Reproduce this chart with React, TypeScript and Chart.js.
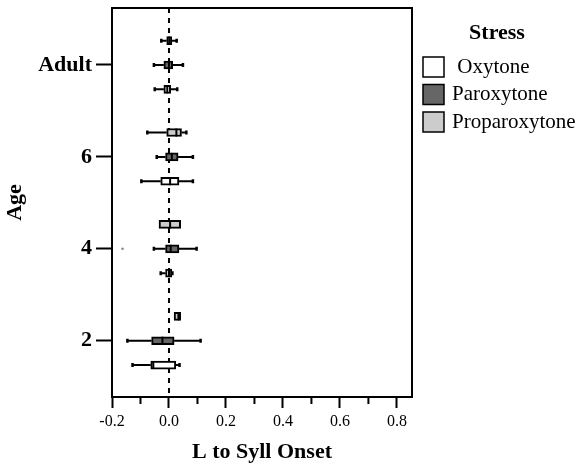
import React, { useEffect, useRef } from 'react';
import { Chart, registerables } from 'chart.js';

Chart.register(...registerables);

const SERIF = "'Liberation Serif', 'Times New Roman', serif";

// Categories (y positions of age groups) and tick labels
const ageValues = [2, 4, 6, 8];
const ageTickLabels = ['2', '4', '6', 'Adult'];
const xTickValues = [-0.2, -0.1, 0, 0.1, 0.2, 0.3, 0.4, 0.5, 0.6, 0.7, 0.8];

const stressNames = ['Oxytone', 'Paroxytone', 'Proparoxytone'];
const stressLegendLabels = [' Oxytone', 'Paroxytone', 'Proparoxytone'];
const stressFills = ['#ffffff', '#666666', '#cccccc'];
const stressRowOffsets = [-0.53, 0, 0.53];

// Box statistics, order: age 2, 4, 6, Adult
const oxytoneMin = [-0.128, -0.029, -0.097, -0.05];
const oxytoneQ1 = [-0.064, -0.012, -0.029, -0.018];
const oxytoneMedian = [-0.055, 0.0, 0.004, -0.006];
const oxytoneQ3 = [0.024, 0.01, 0.035, 0.006];
const oxytoneMax = [0.037, 0.012, 0.084, 0.029];

const paroxytoneMin = [-0.146, -0.053, -0.043, -0.053];
const paroxytoneQ1 = [-0.061, -0.012, -0.012, -0.018];
const paroxytoneMedian = [-0.023, 0.006, 0.01, 0.0];
const paroxytoneQ3 = [0.018, 0.035, 0.032, 0.013];
const paroxytoneMax = [0.111, 0.097, 0.084, 0.049];

const proparoxytoneMin = [0.018, -0.035, -0.076, -0.027];
const proparoxytoneQ1 = [0.018, -0.035, -0.008, -0.008];
const proparoxytoneMedian = [0.033, 0.004, 0.026, 0.001];
const proparoxytoneQ3 = [0.041, 0.041, 0.044, 0.01];
const proparoxytoneMax = [0.041, 0.041, 0.061, 0.027];

const outlierAges = [4];
const outlierValues = [-0.163];

const mins = [oxytoneMin, paroxytoneMin, proparoxytoneMin];
const q1s = [oxytoneQ1, paroxytoneQ1, proparoxytoneQ1];
const medians = [oxytoneMedian, paroxytoneMedian, proparoxytoneMedian];
const q3s = [oxytoneQ3, paroxytoneQ3, proparoxytoneQ3];
const maxs = [oxytoneMax, paroxytoneMax, proparoxytoneMax];

const isMajor = (v: number) => Math.round(v * 10) % 2 === 0;

const boxPlugin = {
  id: 'boxExtras',
  beforeDatasetsDraw(chart: any) {
    const { ctx, chartArea, scales } = chart;
    const x0 = scales.x.getPixelForValue(0);
    ctx.save();
    ctx.strokeStyle = '#000';
    ctx.lineWidth = 2;
    ctx.setLineDash([5, 5]);
    ctx.beginPath();
    ctx.moveTo(x0, chartArea.top);
    ctx.lineTo(x0, chartArea.bottom);
    ctx.stroke();
    ctx.restore();
  },
  afterDatasetsDraw(chart: any) {
    const { ctx, scales } = chart;
    const xs = scales.x;
    const ys = scales.y;
    ctx.save();
    ctx.strokeStyle = '#000';
    ctx.lineCap = 'butt';
    stressNames.forEach((_, s) => {
      ageValues.forEach((age, i) => {
        const y = ys.getPixelForValue(age + stressRowOffsets[s]);
        const pMin = xs.getPixelForValue(mins[s][i]);
        const pQ1 = xs.getPixelForValue(q1s[s][i]);
        const pMed = xs.getPixelForValue(medians[s][i]);
        const pQ3 = xs.getPixelForValue(q3s[s][i]);
        const pMax = xs.getPixelForValue(maxs[s][i]);
        ctx.lineWidth = 2;
        ctx.beginPath();
        if (pQ1 - pMin > 0.5) {
          ctx.moveTo(pMin, y);
          ctx.lineTo(pQ1, y);
        }
        if (pMax - pQ3 > 0.5) {
          ctx.moveTo(pQ3, y);
          ctx.lineTo(pMax, y);
        }
        ctx.stroke();
        ctx.lineWidth = 2.5;
        ctx.beginPath();
        if (pQ1 - pMin > 0.5) {
          ctx.moveTo(pMin, y - 2);
          ctx.lineTo(pMin, y + 2);
        }
        if (pMax - pQ3 > 0.5) {
          ctx.moveTo(pMax, y - 2);
          ctx.lineTo(pMax, y + 2);
        }
        ctx.stroke();
        ctx.lineWidth = 2;
        ctx.beginPath();
        ctx.moveTo(pMed, y - 4);
        ctx.lineTo(pMed, y + 4);
        ctx.stroke();
      });
    });
    ctx.restore();
  },
  afterDraw(chart: any) {
    const { ctx, chartArea, scales } = chart;
    ctx.save();
    // frame
    ctx.strokeStyle = '#000';
    ctx.lineWidth = 2;
    ctx.strokeRect(chartArea.left, chartArea.top, chartArea.right - chartArea.left, chartArea.bottom - chartArea.top);
    // minor x ticks
    ctx.lineWidth = 2;
    ctx.beginPath();
    xTickValues.forEach((v) => {
      if (!isMajor(v)) {
        const px = scales.x.getPixelForValue(v);
        ctx.moveTo(px, chartArea.bottom);
        ctx.lineTo(px, chartArea.bottom + 7);
      }
    });
    ctx.stroke();
    // legend
    ctx.fillStyle = '#000';
    ctx.font = `bold 22px ${SERIF}`;
    ctx.textAlign = 'center';
    ctx.textBaseline = 'middle';
    ctx.fillText('Stress', 497, 33);
    ctx.font = `21px ${SERIF}`;
    ctx.textAlign = 'left';
    stressNames.forEach((_, s) => {
      const top = 57 + s * 27.5;
      ctx.fillStyle = stressFills[s];
      ctx.fillRect(423, top, 21, 20);
      ctx.lineWidth = 1.5;
      ctx.strokeStyle = '#000';
      ctx.strokeRect(423, top, 21, 20);
      ctx.fillStyle = '#000';
      ctx.fillText(stressLegendLabels[s], 452, top + 10);
    });
    ctx.restore();
  },
};

export default function App() {
  const canvasRef = useRef<HTMLCanvasElement | null>(null);

  useEffect(() => {
    if (!canvasRef.current) return;
    Chart.defaults.font.family = SERIF;
    Chart.defaults.color = '#000';

    const boxDatasets: any[] = stressNames.map((name, s) => ({
      type: 'bar',
      label: name,
      data: ageValues.map((age, i) => ({ x: [q1s[s][i], q3s[s][i]], y: age + stressRowOffsets[s] })),
      backgroundColor: stressFills[s],
      borderColor: '#000',
      borderWidth: 2,
      borderSkipped: false,
      barThickness: 8,
      grouped: false,
      indexAxis: 'y',
    }));

    const outlierDataset: any = {
      type: 'scatter',
      label: 'outliers',
      data: outlierAges.map((a, i) => ({ x: outlierValues[i], y: a })),
      pointRadius: 1.3,
      backgroundColor: '#888888',
      borderWidth: 0,
    };

    const chart = new Chart(canvasRef.current, {
      type: 'bar',
      data: { datasets: [...boxDatasets, outlierDataset] },
      plugins: [boxPlugin],
      options: {
        indexAxis: 'y',
        responsive: false,
        animation: false,
        devicePixelRatio: 1,
        layout: { padding: { top: 8, right: 167, left: 0, bottom: 0 } },
        plugins: {
          legend: { display: false },
          tooltip: { enabled: false },
        },
        scales: {
          x: {
            type: 'linear',
            position: 'bottom',
            min: -0.2,
            max: 0.853,
            offset: false,
            afterBuildTicks: (scale: any) => {
              scale.ticks = xTickValues.map((v) => ({ value: v }));
            },
            afterFit: (scale: any) => {
              scale.height = 69;
              scale.paddingLeft = 0;
              scale.paddingRight = 0;
            },
            ticks: {
              autoSkip: false,
              maxRotation: 0,
              padding: 4,
              font: { size: 16, family: SERIF },
              color: '#000',
              callback: (v: any) => (isMajor(Number(v)) ? Number(v).toFixed(1) : ''),
            },
            grid: {
              drawOnChartArea: false,
              drawTicks: true,
              offset: false,
              tickLength: 11,
              tickColor: '#000',
              tickWidth: (ctx: any) => (ctx.tick && isMajor(ctx.tick.value) ? 2 : 0),
            },
            border: { display: false },
            title: {
              display: true,
              text: 'L to Syll Onset',
              font: { size: 22, weight: 'bold', family: SERIF },
              color: '#000',
              padding: { top: 0, bottom: 0 },
            },
          },
          y: {
            type: 'linear',
            position: 'left',
            min: 0.775,
            max: 9.24,
            offset: false,
            afterBuildTicks: (scale: any) => {
              scale.ticks = ageValues.map((v) => ({ value: v }));
            },
            afterFit: (scale: any) => {
              scale.width = 112;
              scale.paddingTop = 0;
              scale.paddingBottom = 0;
            },
            ticks: {
              autoSkip: false,
              padding: 4,
              font: { size: 22, weight: 'bold', family: SERIF },
              color: '#000',
              callback: (v: any) => {
                const idx = ageValues.indexOf(Number(v));
                return idx >= 0 ? ageTickLabels[idx] : '';
              },
            },
            grid: {
              drawOnChartArea: false,
              drawTicks: true,
              offset: false,
              tickLength: 16,
              tickColor: '#000',
              tickWidth: 2,
            },
            border: { display: false },
            title: {
              display: true,
              text: 'Age',
              font: { size: 22, weight: 'bold', family: SERIF },
              color: '#000',
              padding: { top: 2, bottom: 0 },
            },
          },
        },
      } as any,
    });

    return () => chart.destroy();
  }, []);

  return (
    <div style={{ position: 'fixed', left: 0, top: 0, width: 579, height: 466, background: '#fff' }}>
      <canvas ref={canvasRef} width={579} height={466} style={{ display: 'block', width: 579, height: 466 }} />
    </div>
  );
}
